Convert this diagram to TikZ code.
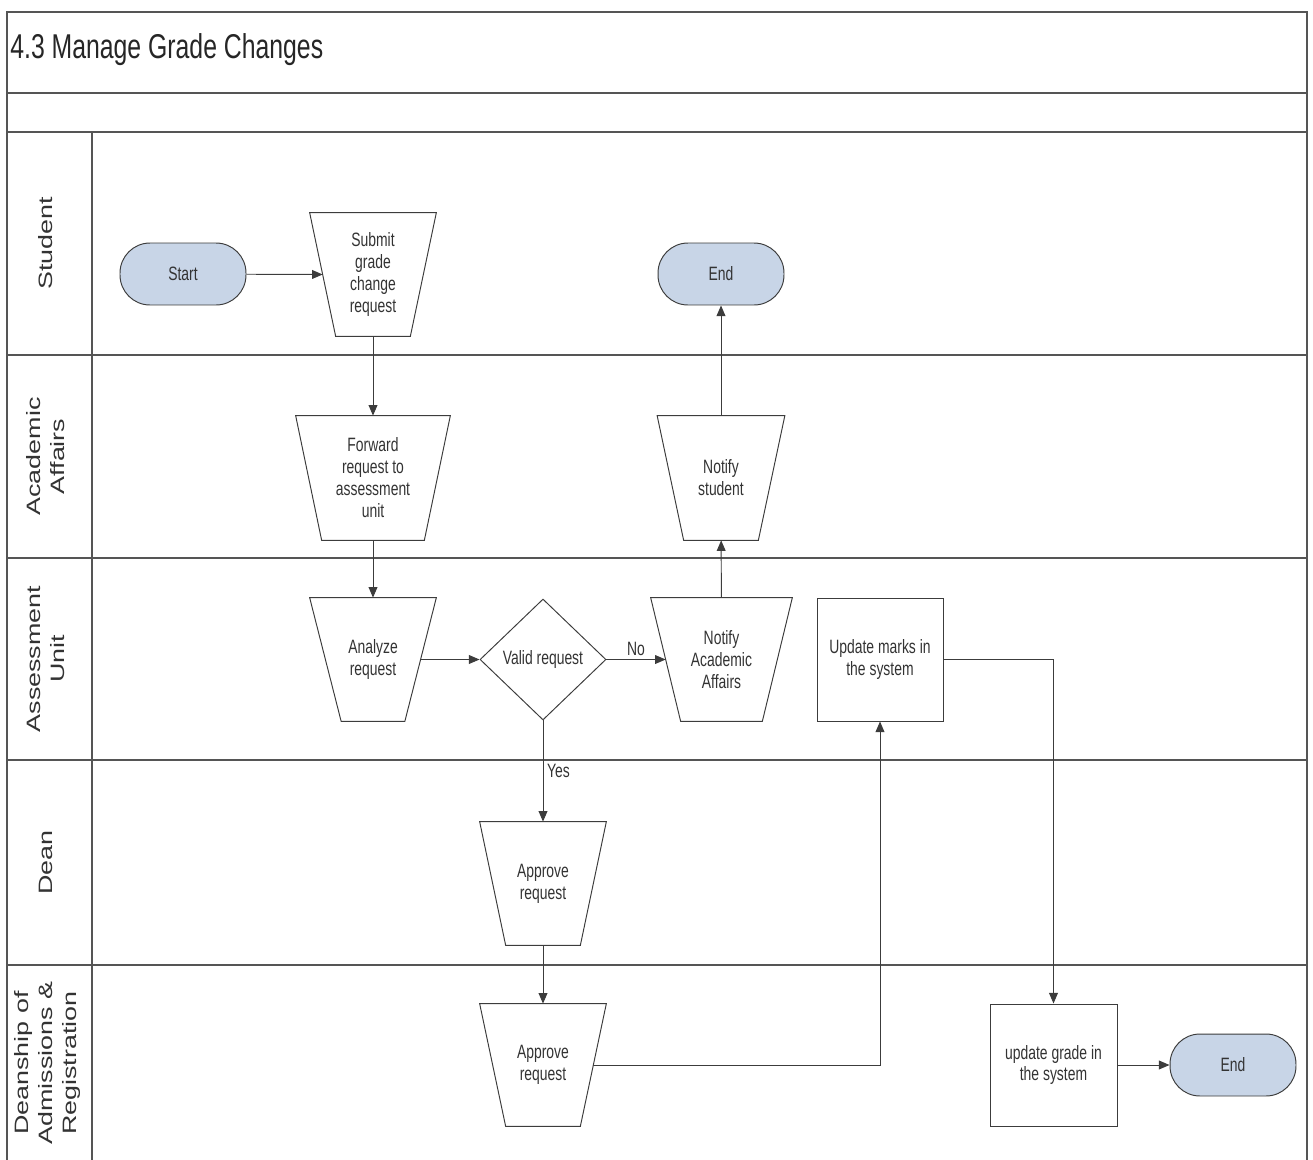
\documentclass[tikz,border=0pt]{standalone}
\usepackage{fontspec}
\usepackage{graphicx}
\usetikzlibrary{shapes.geometric,arrows.meta}
\newfontfamily\condfont[FakeStretch=0.72]{Liberation Sans}
\newfontfamily\lanefont{Liberation Sans}
\definecolor{termfill}{HTML}{C8D5E7}
\definecolor{edgegray}{HTML}{3C3C3C}
\definecolor{lanegray}{HTML}{555555}
\definecolor{txtgray}{HTML}{333333}
\newcommand{\lanetext}[1]{\scalebox{1}[0.72]{\begin{tabular}{@{}c@{}}#1\end{tabular}}}
% outline of a manual-operation step (wide side on top) around node #1,
% the lower corners set in by #2; side midpoints become #1-w and #1-e
\newcommand{\manualop}[2]{%
  \draw[shapeline] (#1.north west) -- (#1.north east)
    -- ([xshift=-#2]#1.south east) -- ([xshift=#2]#1.south west) -- cycle;
  \coordinate (#1-w) at ([xshift=#2/2]#1.west);
  \coordinate (#1-e) at ([xshift=-#2/2]#1.east);}

\begin{document}
\begin{tikzpicture}[x=0.02cm, y=-0.02cm,
  lane/.style={draw=lanegray, line width=1.2pt},
  shapeline/.style={draw=edgegray, line width=0.55pt},
  nodefont/.style={font=\condfont\fontsize{11}{12.5}\selectfont, text=txtgray, align=center},
  term/.style={nodefont, rectangle, rounded corners=0.6cm, shapeline, fill=termfill,
    minimum width=2.52cm, minimum height=1.24cm, inner sep=0pt},
  trapbox/.style={nodefont, rectangle, inner sep=0pt},
  box/.style={nodefont, rectangle, shapeline,
    minimum width=2.52cm, minimum height=2.46cm, inner sep=1pt},
  decision/.style={nodefont, diamond, shapeline,
    minimum width=2.52cm, minimum height=2.42cm, inner sep=0pt},
  lanelabel/.style={rotate=90, font=\lanefont\fontsize{15.3}{19}\selectfont, text=txtgray, inner sep=0pt},
  arr/.style={draw=edgegray, line width=0.55pt, -{Triangle[length=6pt,width=5pt]}},
  lbl/.style={font=\condfont\fontsize{11}{12.5}\selectfont, text=txtgray, inner sep=2pt}
]
\useasboundingbox (0,0) rectangle (1313,1160);

% pool frame, title band and lane separators
\draw[lane] (7,1160) -- (7,12) -- (1307,12) -- (1307,1160);
\draw[lane] (7,93) -- (1307,93);
\draw[lane] (7,132) -- (1307,132);
\draw[lane] (7,355) -- (1307,355);
\draw[lane] (7,558) -- (1307,558);
\draw[lane] (7,760) -- (1307,760);
\draw[lane] (7,965) -- (1307,965);
\draw[lane] (92,132) -- (92,1160);

\node[anchor=west, font=\condfont\fontsize{19.6}{22}\selectfont, text=black!85, inner sep=0pt]
  (title) at (10,50) {4.3 Manage Grade Changes};

% lane headers
\node[lanelabel] (lstu) at (48,243.5) {\lanetext{Student}};
\node[lanelabel] (laca) at (48,456.5) {\lanetext{Academic\\Affairs}};
\node[lanelabel] (lass) at (48,659) {\lanetext{Assessment\\Unit}};
\node[lanelabel] (ldea) at (48,862.5) {\lanetext{Dean}};
\node[lanelabel] (ladm) at (48,1063) {\lanetext{Deanship of\\Admissions \&\\Registration}};

% process steps
\node[term] (start) at (183,274) {Start};
\node[trapbox, minimum width=2.52cm, minimum height=2.46cm] (sub) at (373,274.5)
  {Submit\\grade\\change\\request};
\manualop{sub}{0.52cm}
\node[term] (endA) at (721,274) {End};

\node[trapbox, minimum width=3.08cm, minimum height=2.48cm] (fwd) at (373,478)
  {Forward\\request to\\assessment\\unit};
\manualop{fwd}{0.52cm}
\node[trapbox, minimum width=2.54cm, minimum height=2.48cm] (nstu) at (721,478)
  {Notify\\student};
\manualop{nstu}{0.53cm}

\node[trapbox, minimum width=2.52cm, minimum height=2.46cm] (ana) at (373,659.5)
  {Analyze\\request};
\manualop{ana}{0.63cm}
\node[decision] (valid) at (543,659.5) {Valid request};
\node[trapbox, minimum width=2.82cm, minimum height=2.46cm] (naa) at (721.5,659.5)
  {Notify\\Academic\\Affairs};
\manualop{naa}{0.6cm}
\node[box] (upm) at (880,659.5) {Update marks in\\the system};

\node[trapbox, minimum width=2.52cm, minimum height=2.46cm] (app1) at (543,883.5)
  {Approve\\request};
\manualop{app1}{0.52cm}

\node[trapbox, minimum width=2.52cm, minimum height=2.44cm] (app2) at (543,1065)
  {Approve\\request};
\manualop{app2}{0.52cm}
\node[box, minimum width=2.54cm, minimum height=2.44cm] (upg) at (1053.5,1065) {update grade in\\the system};
\node[term] (endB) at (1233,1065) {End};

% flow
\draw[arr] (start) -- (sub-w);
\draw[arr] (sub) -- (fwd);
\draw[arr] (fwd) -- (ana);
\draw[arr] (ana-e) -- (valid);
\draw[arr] (valid) -- node[lbl, above, pos=0.5] (nolbl) {No} (naa-w);
\draw[arr] (valid) -- node[lbl, right, pos=0.5] (yeslbl) {Yes} (app1);
\draw[arr] (naa) -- (nstu);
\draw[arr] (nstu) -- (endA);
\draw[arr] (app1) -- (app2);
\draw[arr] (app2-e) -| (upm);
\draw[arr] (upm) -| (upg);
\draw[arr] (upg) -- (endB);
\end{tikzpicture}
\end{document}
